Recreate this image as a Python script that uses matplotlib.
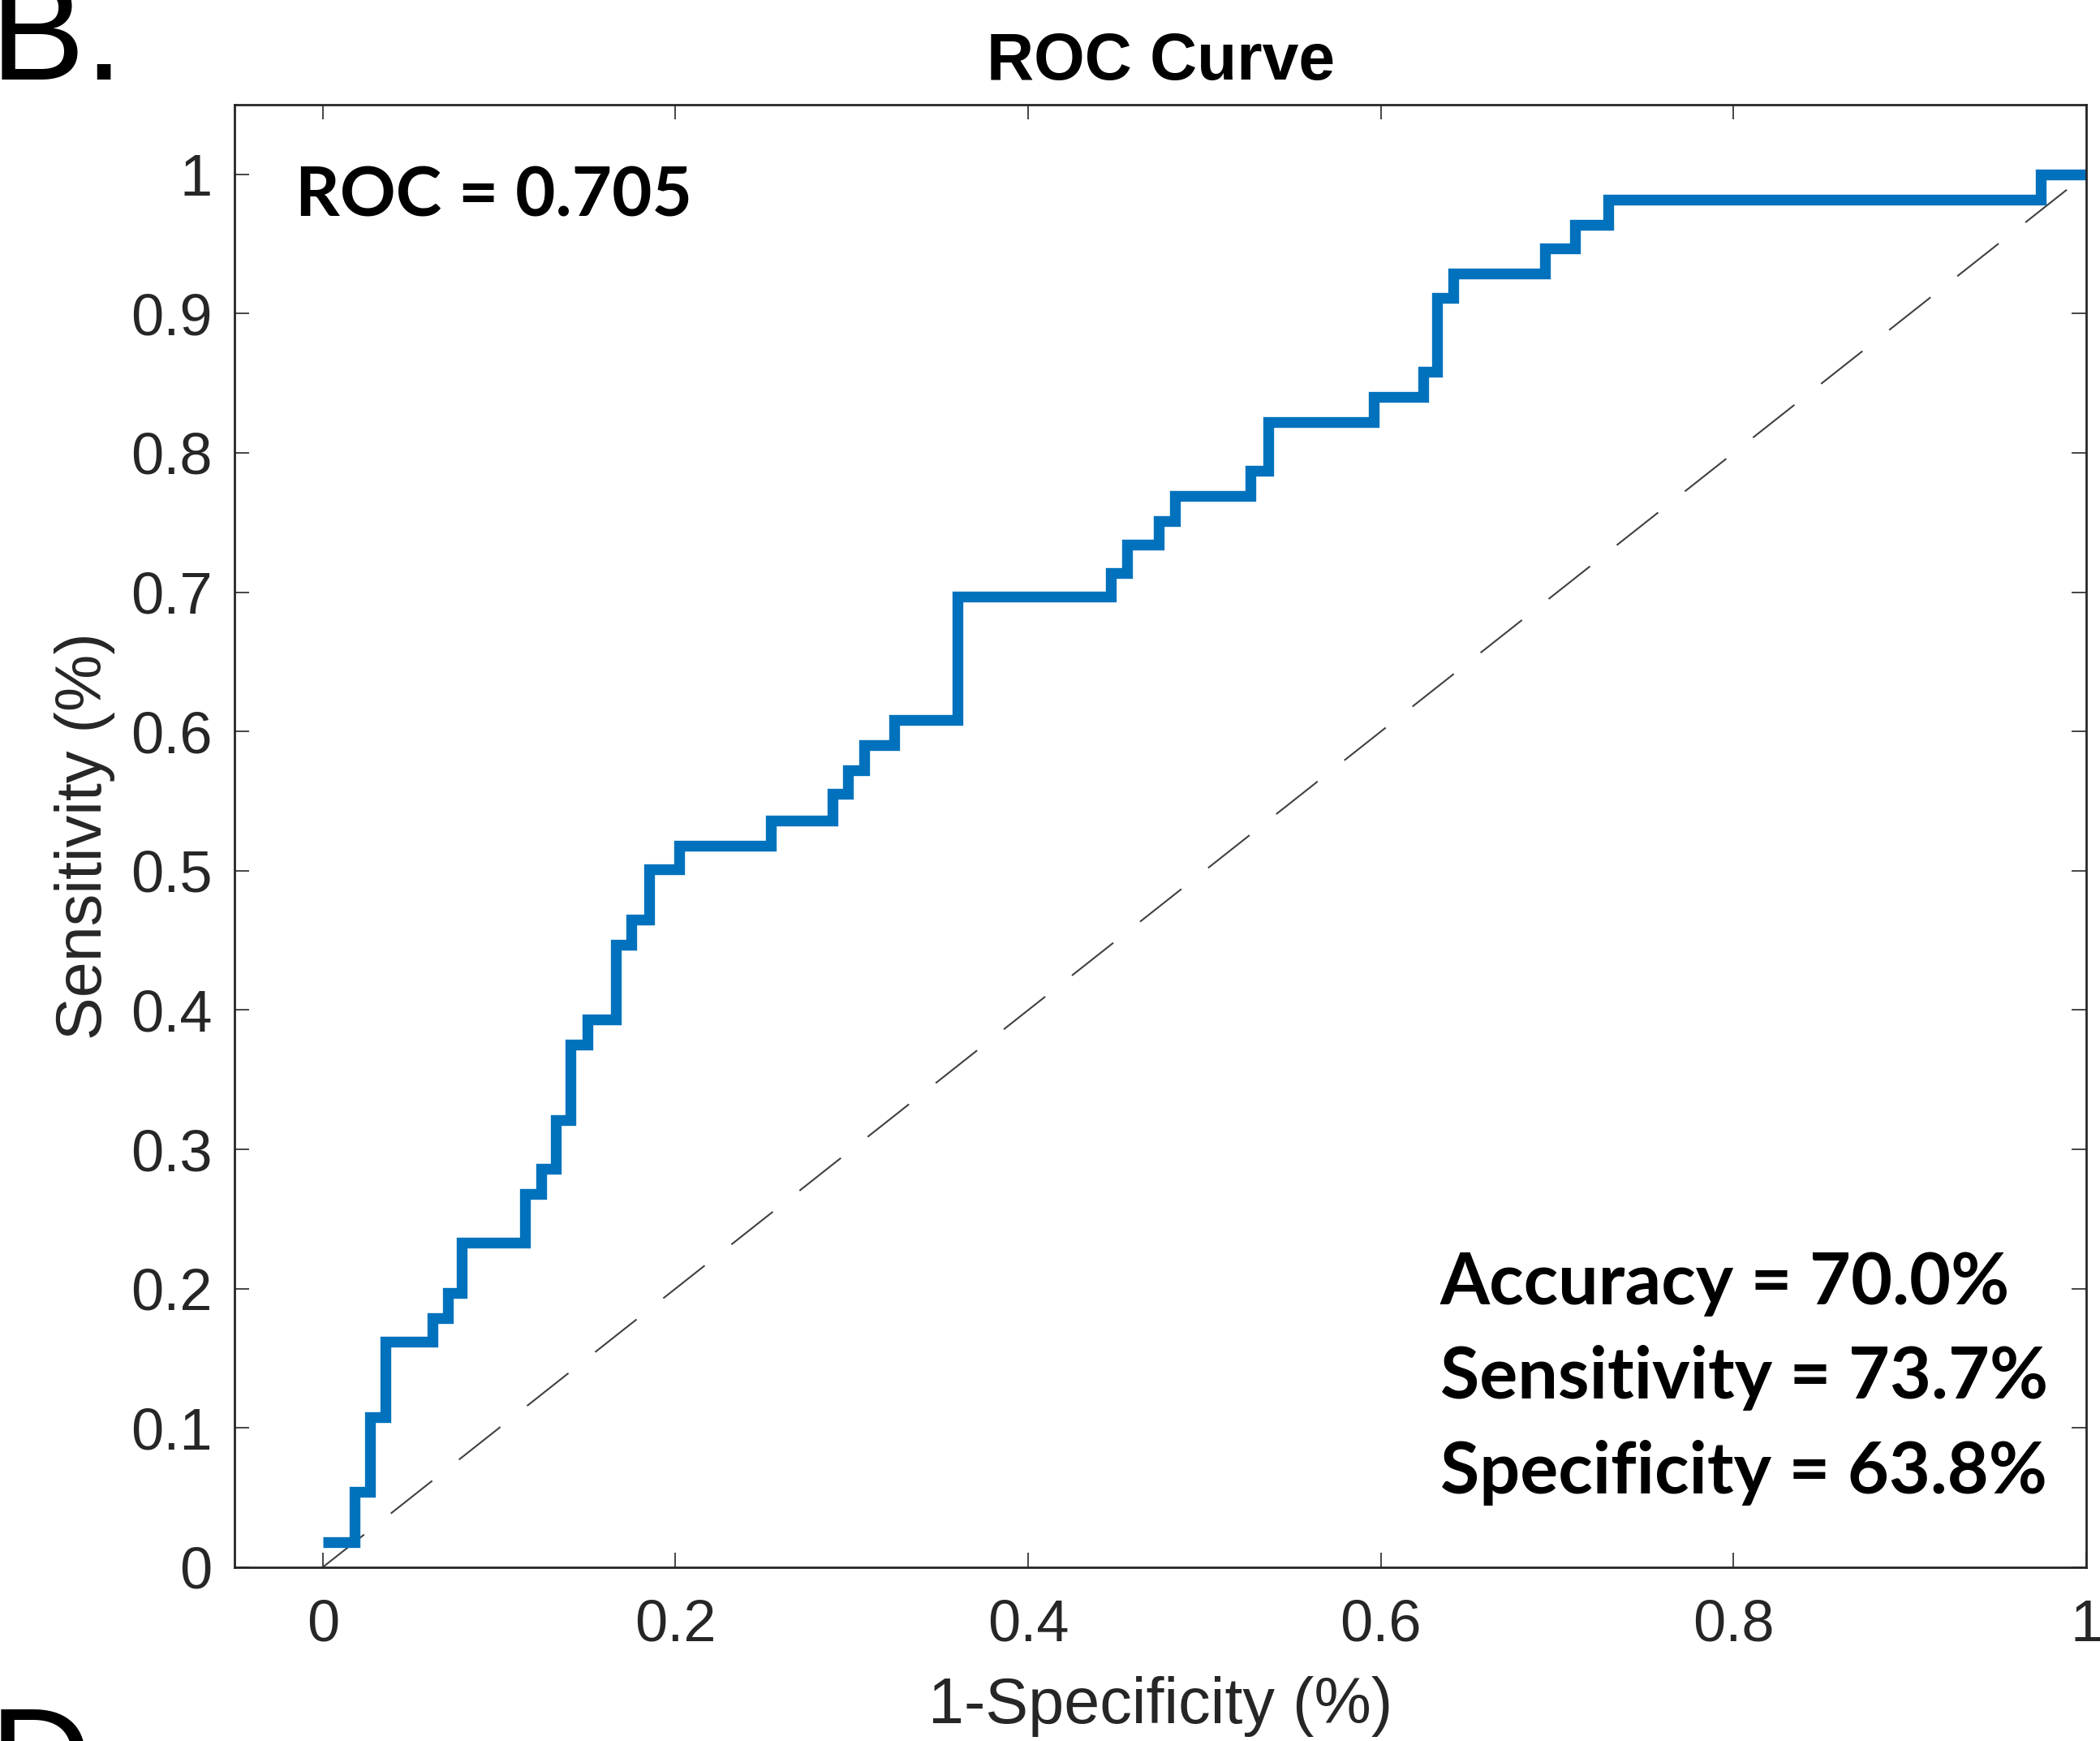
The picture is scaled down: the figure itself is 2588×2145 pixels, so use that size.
import matplotlib
matplotlib.use("Agg")
import matplotlib.pyplot as plt

# ROC curve corner points (false positive rate, true positive rate)
fpr = [0.0, 0.018, 0.027, 0.0355, 0.062, 0.071, 0.079, 0.1145, 0.124, 0.132,
       0.1405, 0.150, 0.166, 0.175, 0.185, 0.202, 0.254, 0.289, 0.298, 0.307,
       0.324, 0.360, 0.447, 0.456, 0.474, 0.483, 0.526, 0.536, 0.596, 0.624,
       0.632, 0.641, 0.693, 0.710, 0.729, 0.974, 1.0]
tpr = [0.018, 0.054, 0.108, 0.162, 0.179, 0.197, 0.233, 0.268, 0.286, 0.321,
       0.375, 0.393, 0.447, 0.465, 0.501, 0.518, 0.536, 0.555, 0.572, 0.590,
       0.608, 0.697, 0.714, 0.734, 0.751, 0.769, 0.787, 0.822, 0.840, 0.858,
       0.911, 0.929, 0.947, 0.964, 0.982, 1.0, 1.0]

auc_value = 0.705
accuracy = 70.0
sensitivity = 73.7
specificity = 63.8

x_ticks = [0, 0.2, 0.4, 0.6, 0.8, 1]
y_ticks = [0, 0.1, 0.2, 0.3, 0.4, 0.5, 0.6, 0.7, 0.8, 0.9, 1]

AXIS_GRAY = "#262626"
LINE_BLUE = "#0072BD"

plt.rcParams["font.family"] = ["Liberation Sans", "DejaVu Sans"]
plt.rcParams["lines.scale_dashes"] = False

fig = plt.figure(figsize=(12.94, 10.725), dpi=200)
ax = fig.add_axes((0.1117, 0.0998, 0.8818, 0.8401))

# chance line
ax.plot([0, 1], [0, 1], color="#404040", linewidth=0.75, dashes=(23.4, 15.1))
# ROC curve as a staircase
ax.plot(fpr, tpr, drawstyle="steps-post", color=LINE_BLUE, linewidth=4.8,
        solid_joinstyle="miter", solid_capstyle="butt")

ax.set_xlim(-0.05, 1)
ax.set_ylim(0, 1.05)
ax.set_xticks(x_ticks)
ax.set_yticks(y_ticks)
ax.set_xticklabels(["0", "0.2", "0.4", "0.6", "0.8", "1"])
ax.set_yticklabels(["0", "0.1", "0.2", "0.3", "0.4", "0.5", "0.6", "0.7", "0.8", "0.9", "1"])
ax.tick_params(direction="in", length=6.5, width=0.6, color=AXIS_GRAY,
               labelcolor=AXIS_GRAY, labelsize=26, top=True, right=True)
ax.tick_params(axis="x", pad=14)
ax.tick_params(axis="y", pad=10)
for sp in ax.spines.values():
    sp.set_color(AXIS_GRAY)
    sp.set_linewidth(1.0)

ax.set_title("ROC Curve", fontsize=29, fontweight="bold", pad=11, color="black")
ax.set_xlabel("1-Specificity (%)", fontsize=28.5, color=AXIS_GRAY)
ax.set_ylabel("Sensitivity (%)", fontsize=28.5, color=AXIS_GRAY)
ax.xaxis.set_label_coords(0.5, -0.1065)
ax.xaxis.label.set_va("baseline")
ax.yaxis.set_label_coords(-0.0719, 0.5)
ax.yaxis.label.set_va("baseline")

bold_font = dict(family=["Lato", "DejaVu Sans"], fontweight="bold", color="black")
ax.text(0.033, 0.9236, f"ROC = {auc_value:.3f}", transform=ax.transAxes,
        fontsize=30.7, va="baseline", ha="left", **bold_font)
stats = [f"Accuracy = {accuracy:.1f}%",
         f"Sensitivity = {sensitivity:.1f}%",
         f"Specificity = {specificity:.1f}%"]
for line, yb in zip(stats, [0.1798, 0.1154, 0.0505]):
    ax.text(0.651, yb, line, transform=ax.transAxes, fontsize=31.7,
            va="baseline", ha="left", **bold_font)

# panel letters
fig.text(-12 / 2588, 0.9543, "B.", fontsize=63, color="black", va="baseline", ha="left")
fig.text(-13 / 2588, -0.0378, "D", fontsize=63, color="black", va="baseline", ha="left")

fig.savefig("out.png", dpi=200)
